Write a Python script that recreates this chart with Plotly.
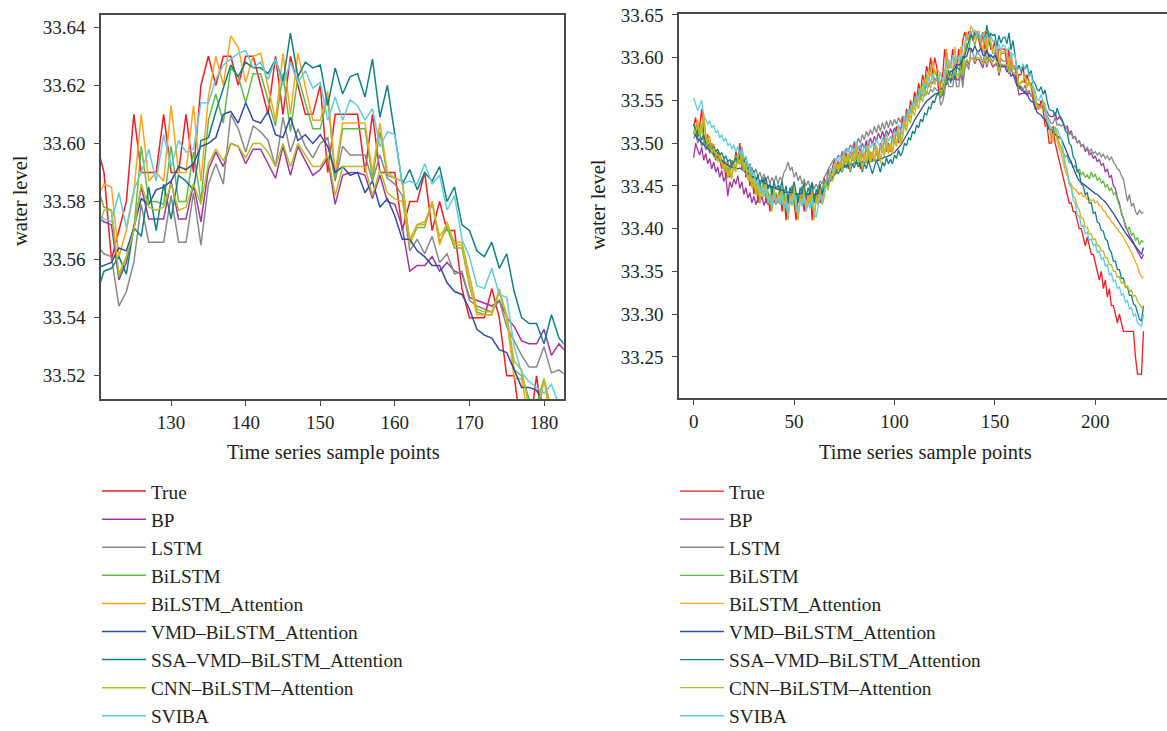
import plotly.graph_objects as go

# sample index 0..224
steps = list(range(225))

true_level = [
    33.52, 33.53, 33.51, 33.52, 33.54, 33.51, 33.50, 33.51, 33.49, 33.50,
    33.49, 33.48, 33.49, 33.48, 33.47, 33.48, 33.46, 33.47, 33.46, 33.48,
    33.47, 33.49, 33.48, 33.50, 33.47, 33.48, 33.46, 33.47, 33.45, 33.46,
    33.44, 33.46, 33.43, 33.45, 33.44, 33.46, 33.43, 33.44, 33.42, 33.45,
    33.43, 33.44, 33.43, 33.45, 33.42, 33.44, 33.41, 33.44, 33.43, 33.45,
    33.43, 33.41, 33.44, 33.43, 33.45, 33.42, 33.44, 33.43, 33.45, 33.41,
    33.44, 33.43, 33.45, 33.43, 33.44, 33.46, 33.45, 33.47, 33.46, 33.47,
    33.48, 33.47, 33.48, 33.47, 33.49, 33.48, 33.49, 33.47, 33.49, 33.48,
    33.50, 33.48, 33.49, 33.47, 33.49, 33.48, 33.50, 33.48, 33.49, 33.48,
    33.50, 33.49, 33.48, 33.50, 33.49, 33.51, 33.49, 33.50, 33.49, 33.51,
    33.50, 33.52, 33.50, 33.51, 33.53, 33.52, 33.54, 33.53, 33.55, 33.54,
    33.56, 33.55, 33.57, 33.56, 33.58, 33.57, 33.59, 33.58, 33.60, 33.58,
    33.60,
    33.59, 33.56, 33.57, 33.58, 33.61, 33.59, 33.59, 33.59, 33.61, 33.59,
    33.59, 33.61, 33.59, 33.62, 33.63, 33.62, 33.63, 33.63, 33.62, 33.63,
    33.63, 33.62, 33.61, 33.63, 33.61, 33.63, 33.62, 33.61, 33.61, 33.62,
    33.59, 33.61, 33.61, 33.61, 33.61, 33.59, 33.61, 33.59, 33.59, 33.59,
    33.57, 33.58, 33.58, 33.59, 33.57, 33.58, 33.57, 33.57, 33.55, 33.54,
    33.54, 33.54, 33.55, 33.54, 33.52, 33.52, 33.50, 33.50, 33.52, 33.50,
    33.49, 33.48, 33.47,
    33.46, 33.45, 33.44, 33.43, 33.43, 33.42, 33.42, 33.41, 33.40, 33.40,
    33.39, 33.38, 33.39, 33.38, 33.37, 33.37, 33.36, 33.35, 33.34, 33.35,
    33.33, 33.34, 33.32, 33.33, 33.31, 33.31, 33.30, 33.29, 33.30, 33.29,
    33.28, 33.28, 33.28, 33.28, 33.28, 33.28, 33.25, 33.23, 33.23, 33.23,
    33.28,
]

bp_pred = [
    33.483, 33.500, 33.492, 33.486, 33.495, 33.480, 33.488, 33.476, 33.482, 33.470,
    33.478, 33.466, 33.472, 33.460, 33.468, 33.455, 33.462, 33.438, 33.455, 33.448,
    33.458, 33.452, 33.462, 33.447, 33.455, 33.440, 33.448, 33.436, 33.442, 33.430,
    33.438, 33.428, 33.436, 33.430, 33.438, 33.427, 33.434, 33.428, 33.436, 33.430,
    33.437, 33.428, 33.435, 33.430, 33.438, 33.426, 33.433, 33.429, 33.437, 33.430,
    33.436, 33.427, 33.434, 33.430, 33.438, 33.428, 33.435, 33.431, 33.438, 33.426,
    33.434, 33.430, 33.438, 33.433, 33.440, 33.446, 33.452, 33.458, 33.462, 33.468,
    33.472, 33.470, 33.478, 33.474, 33.482, 33.480, 33.486, 33.481, 33.489, 33.485,
    33.493, 33.488, 33.496, 33.490, 33.500, 33.494, 33.503, 33.497, 33.506, 33.499,
    33.508, 33.502, 33.512, 33.505, 33.514, 33.507, 33.515, 33.509, 33.517, 33.511,
    33.518, 33.512, 33.520, 33.516, 33.524, 33.522, 33.530, 33.532, 33.540, 33.542,
    33.549, 33.550, 33.556, 33.558, 33.563, 33.562, 33.568, 33.566, 33.572, 33.570,
    33.575,
    33.573, 33.572, 33.553, 33.559, 33.571, 33.585, 33.574, 33.574, 33.574, 33.587,
    33.574, 33.574, 33.586, 33.573, 33.591, 33.597, 33.592, 33.600, 33.599, 33.593,
    33.598, 33.598, 33.593, 33.588, 33.599, 33.589, 33.599, 33.594, 33.589, 33.591,
    33.595, 33.579, 33.589, 33.590, 33.590, 33.589, 33.581, 33.589, 33.580, 33.579,
    33.571, 33.556, 33.558, 33.558, 33.561, 33.556, 33.559, 33.556, 33.555, 33.547,
    33.546, 33.545, 33.544, 33.546, 33.540, 33.537, 33.532, 33.531, 33.531, 33.536,
    33.527, 33.531, 33.528,
    33.524, 33.518, 33.520, 33.512, 33.514, 33.506, 33.508, 33.500, 33.503, 33.496,
    33.498, 33.490, 33.494, 33.486, 33.489, 33.482, 33.485, 33.478, 33.481, 33.474,
    33.476, 33.466, 33.470, 33.460, 33.462, 33.450, 33.447, 33.436, 33.430, 33.418,
    33.412, 33.402, 33.398, 33.392, 33.388, 33.384, 33.378, 33.374, 33.370, 33.365,
    33.370,
]

lstm_pred = [
    33.505, 33.512, 33.500, 33.506, 33.496, 33.502, 33.492, 33.497, 33.488, 33.494,
    33.484, 33.490, 33.480, 33.486, 33.476, 33.482, 33.472, 33.478, 33.470, 33.480,
    33.474, 33.484, 33.478, 33.488, 33.476, 33.482, 33.470, 33.476, 33.466, 33.472,
    33.464, 33.470, 33.460, 33.466, 33.458, 33.464, 33.456, 33.462, 33.452, 33.460,
    33.454, 33.462, 33.452, 33.460, 33.456, 33.466, 33.470, 33.478, 33.468, 33.472,
    33.460, 33.466, 33.456, 33.462, 33.452, 33.458, 33.450, 33.456, 33.448, 33.454,
    33.446, 33.452, 33.448, 33.456, 33.452, 33.460, 33.464, 33.470, 33.474, 33.478,
    33.482, 33.480, 33.486, 33.483, 33.490, 33.487, 33.494, 33.490, 33.498, 33.494,
    33.502, 33.497, 33.506, 33.500, 33.510, 33.504, 33.514, 33.508, 33.516, 33.510,
    33.520, 33.512, 33.522, 33.514, 33.524, 33.516, 33.526, 33.518, 33.527, 33.520,
    33.528, 33.522, 33.530, 33.524, 33.532, 33.528, 33.536, 33.534, 33.542, 33.540,
    33.548, 33.546, 33.553, 33.551, 33.558, 33.555, 33.561, 33.557, 33.563, 33.560,
    33.565,
    33.562, 33.561, 33.544, 33.549, 33.559, 33.579, 33.566, 33.566, 33.566, 33.582,
    33.566, 33.566, 33.583, 33.565, 33.586, 33.593, 33.586, 33.610, 33.605, 33.597,
    33.606, 33.604, 33.601, 33.592, 33.609, 33.597, 33.605, 33.599, 33.595, 33.600,
    33.602, 33.587, 33.599, 33.596, 33.596, 33.596, 33.587, 33.596, 33.588, 33.586,
    33.582, 33.563, 33.567, 33.562, 33.568, 33.559, 33.562, 33.555, 33.556, 33.546,
    33.544, 33.543, 33.542, 33.546, 33.537, 33.532, 33.527, 33.523, 33.523, 33.530,
    33.521, 33.522, 33.520,
    33.522, 33.518, 33.516, 33.510, 33.512, 33.505, 33.508, 33.500, 33.503, 33.496,
    33.499, 33.492, 33.495, 33.490, 33.493, 33.488, 33.490, 33.486, 33.489, 33.484,
    33.487, 33.482, 33.485, 33.480, 33.484, 33.478, 33.475, 33.470, 33.468, 33.462,
    33.458, 33.445, 33.432, 33.440, 33.426, 33.430, 33.420, 33.416, 33.422, 33.418,
    33.419,
]

bilstm_pred = [
    33.512, 33.520, 33.506, 33.512, 33.522, 33.504, 33.498, 33.504, 33.490, 33.496,
    33.488, 33.482, 33.488, 33.480, 33.474, 33.480, 33.466, 33.472, 33.465, 33.478,
    33.472, 33.486, 33.478, 33.492, 33.472, 33.478, 33.463, 33.470, 33.455, 33.462,
    33.447, 33.458, 33.438, 33.450, 33.444, 33.455, 33.436, 33.444, 33.428, 33.448,
    33.434, 33.442, 33.436, 33.448, 33.428, 33.442, 33.424, 33.440, 33.434, 33.448,
    33.434, 33.422, 33.440, 33.434, 33.448, 33.428, 33.441, 33.434, 33.448, 33.424,
    33.440, 33.434, 33.448, 33.436, 33.442, 33.455, 33.450, 33.464, 33.458, 33.466,
    33.474, 33.468, 33.476, 33.470, 33.484, 33.477, 33.486, 33.472, 33.486, 33.479,
    33.494, 33.480, 33.488, 33.474, 33.488, 33.480, 33.496, 33.481, 33.490, 33.482,
    33.497, 33.489, 33.482, 33.497, 33.490, 33.505, 33.492, 33.499, 33.492, 33.506,
    33.500, 33.514, 33.502, 33.509, 33.524, 33.518, 33.533, 33.528, 33.543, 33.537,
    33.552, 33.546, 33.561, 33.555, 33.570, 33.564, 33.580, 33.573, 33.589, 33.576,
    33.586,
    33.578, 33.577, 33.554, 33.561, 33.570, 33.599, 33.580, 33.580, 33.579, 33.599,
    33.580, 33.580, 33.597, 33.580, 33.608, 33.617, 33.607, 33.626, 33.623, 33.614,
    33.624, 33.624, 33.615, 33.606, 33.624, 33.604, 33.623, 33.614, 33.605, 33.605,
    33.616, 33.588, 33.605, 33.605, 33.605, 33.605, 33.588, 33.604, 33.589, 33.588,
    33.587, 33.566, 33.571, 33.571, 33.580, 33.566, 33.571, 33.564, 33.564, 33.551,
    33.542, 33.541, 33.541, 33.549, 33.540, 33.522, 33.520, 33.512, 33.510, 33.519,
    33.508, 33.500, 33.494,
    33.490, 33.484, 33.486, 33.477, 33.479, 33.471, 33.474, 33.466, 33.470, 33.463,
    33.466, 33.460, 33.463, 33.458, 33.466, 33.460, 33.464, 33.456, 33.460, 33.453,
    33.456, 33.448, 33.452, 33.444, 33.448, 33.440, 33.442, 33.434, 33.428, 33.420,
    33.412, 33.404, 33.398, 33.402, 33.392, 33.395, 33.386, 33.390, 33.381, 33.386,
    33.384,
]

bilstm_att_pred = [
    33.518, 33.520, 33.527, 33.512, 33.519, 33.535, 33.512, 33.503, 33.508, 33.492,
    33.499, 33.490, 33.482, 33.489, 33.480, 33.472, 33.479, 33.463, 33.469, 33.462,
    33.478, 33.471, 33.487, 33.479, 33.496, 33.472, 33.479, 33.462, 33.469, 33.453,
    33.460, 33.443, 33.458, 33.434, 33.449, 33.441, 33.457, 33.433, 33.441, 33.424,
    33.447, 33.432, 33.440, 33.432, 33.448, 33.424, 33.440, 33.414, 33.438, 33.431,
    33.448, 33.432, 33.414, 33.438, 33.431, 33.447, 33.424, 33.440, 33.432, 33.447,
    33.414, 33.438, 33.432, 33.447, 33.432, 33.440, 33.457, 33.449, 33.466, 33.459,
    33.468, 33.478, 33.470, 33.479, 33.471, 33.487, 33.479, 33.488, 33.472, 33.488,
    33.480, 33.497, 33.481, 33.490, 33.473, 33.488, 33.480, 33.497, 33.481, 33.490,
    33.482, 33.497, 33.489, 33.481, 33.497, 33.489, 33.506, 33.491, 33.499, 33.491,
    33.507, 33.500, 33.516, 33.502, 33.510, 33.526, 33.519, 33.536, 33.529, 33.546,
    33.539, 33.556, 33.549, 33.566, 33.559, 33.576, 33.569, 33.586, 33.578, 33.596,
    33.581,
    33.586, 33.585, 33.561, 33.570, 33.583, 33.610, 33.587, 33.590, 33.587, 33.613,
    33.590, 33.590, 33.613, 33.587, 33.616, 33.630, 33.620, 33.637, 33.633, 33.621,
    33.630, 33.631, 33.620, 33.608, 33.631, 33.610, 33.631, 33.620, 33.608, 33.608,
    33.618, 33.590, 33.607, 33.607, 33.607, 33.607, 33.590, 33.607, 33.590, 33.588,
    33.587, 33.565, 33.572, 33.572, 33.580, 33.565, 33.573, 33.565, 33.565, 33.552,
    33.541, 33.541, 33.541, 33.550, 33.540, 33.519, 33.519, 33.504, 33.502, 33.519,
    33.502, 33.494, 33.488,
    33.478, 33.468, 33.462, 33.455, 33.452, 33.447, 33.446, 33.443, 33.440, 33.442,
    33.437, 33.439, 33.434, 33.436, 33.432, 33.434, 33.430, 33.432, 33.427, 33.426,
    33.421, 33.420, 33.414, 33.413, 33.408, 33.406, 33.402, 33.400, 33.396, 33.394,
    33.390, 33.386, 33.381, 33.377, 33.372, 33.367, 33.362, 33.356, 33.348, 33.344,
    33.342,
]

vmd_bilstm_att_pred = [
    33.512, 33.508, 33.505, 33.503, 33.500, 33.498, 33.496, 33.493, 33.491, 33.489,
    33.487, 33.485, 33.483, 33.481, 33.479, 33.477, 33.476, 33.474, 33.473, 33.472,
    33.471, 33.471, 33.470, 33.471, 33.469, 33.468, 33.466, 33.465, 33.463, 33.462,
    33.460, 33.459, 33.457, 33.456, 33.455, 33.454, 33.452, 33.451, 33.449, 33.449,
    33.448, 33.447, 33.446, 33.446, 33.445, 33.444, 33.442, 33.443, 33.442, 33.443,
    33.442, 33.440, 33.441, 33.441, 33.442, 33.440, 33.441, 33.440, 33.442, 33.439,
    33.440, 33.440, 33.442, 33.441, 33.443, 33.446, 33.449, 33.453, 33.456, 33.459,
    33.463, 33.465, 33.468, 33.469, 33.472, 33.472, 33.474, 33.473, 33.475, 33.475,
    33.477, 33.476, 33.477, 33.476, 33.478, 33.477, 33.479, 33.478, 33.479, 33.479,
    33.481, 33.480, 33.480, 33.482, 33.482, 33.484, 33.484, 33.485, 33.486, 33.488,
    33.489, 33.492, 33.494, 33.497, 33.501, 33.505, 33.509, 33.513, 33.518, 33.522,
    33.527, 33.531, 33.535, 33.539, 33.543, 33.546, 33.549, 33.551, 33.554, 33.555,
    33.557,
    33.558, 33.559, 33.564, 33.563, 33.571, 33.581, 33.579, 33.584, 33.585, 33.587,
    33.592, 33.591, 33.593, 33.599, 33.600, 33.602, 33.610, 33.611, 33.607, 33.614,
    33.608, 33.607, 33.611, 33.603, 33.602, 33.609, 33.601, 33.603, 33.600, 33.603,
    33.599, 33.590, 33.592, 33.589, 33.590, 33.583, 33.587, 33.578, 33.581, 33.575,
    33.567, 33.567, 33.563, 33.561, 33.558, 33.558, 33.552, 33.549, 33.548, 33.543,
    33.536, 33.534, 33.533, 33.529, 33.528, 33.522, 33.516, 33.516, 33.515, 33.510,
    33.508, 33.506, 33.505,
    33.500, 33.494, 33.488, 33.482, 33.476, 33.470, 33.465, 33.460, 33.456, 33.454,
    33.452, 33.450, 33.448, 33.446, 33.444, 33.443, 33.441, 33.440, 33.438, 33.436,
    33.434, 33.431, 33.428, 33.425, 33.421, 33.418, 33.414, 33.410, 33.406, 33.402,
    33.398, 33.395, 33.392, 33.389, 33.386, 33.383, 33.380, 33.377, 33.374, 33.370,
    33.378,
]

ssa_vmd_pred = [
    33.522, 33.515, 33.508, 33.512, 33.503, 33.510, 33.500, 33.497, 33.499, 33.493,
    33.496, 33.490, 33.493, 33.486, 33.489, 33.482, 33.485, 33.478, 33.481, 33.474,
    33.479, 33.483, 33.476, 33.486, 33.494, 33.478, 33.484, 33.470, 33.476, 33.462,
    33.468, 33.455, 33.463, 33.450, 33.458, 33.452, 33.460, 33.446, 33.452, 33.440,
    33.455, 33.446, 33.451, 33.444, 33.456, 33.440, 33.450, 33.432, 33.448, 33.442,
    33.455, 33.442, 33.430, 33.448, 33.441, 33.454, 33.436, 33.448, 33.441, 33.454,
    33.430, 33.446, 33.441, 33.452, 33.440, 33.446, 33.456, 33.450, 33.462, 33.456,
    33.463, 33.470, 33.464, 33.470, 33.466, 33.476, 33.471, 33.477, 33.466, 33.476,
    33.471, 33.480, 33.472, 33.477, 33.466, 33.476, 33.470, 33.480, 33.472, 33.464,
    33.472, 33.480, 33.474, 33.466, 33.478, 33.473, 33.483, 33.476, 33.481, 33.476,
    33.486, 33.482, 33.492, 33.485, 33.490, 33.500, 33.497, 33.506, 33.504, 33.514,
    33.511, 33.521, 33.518, 33.528, 33.525, 33.535, 33.533, 33.542, 33.540, 33.549,
    33.548,
    33.556, 33.557, 33.561, 33.555, 33.571, 33.568, 33.585, 33.570, 33.586, 33.574,
    33.589, 33.587, 33.584, 33.601, 33.602, 33.611, 33.619, 33.627, 33.623, 33.628,
    33.626, 33.626, 33.624, 33.629, 33.621, 33.638, 33.623, 33.628, 33.626, 33.627,
    33.613, 33.626, 33.617, 33.623, 33.624, 33.616, 33.629, 33.609, 33.620, 33.603,
    33.586, 33.591, 33.584, 33.590, 33.587, 33.592, 33.580, 33.585, 33.572, 33.570,
    33.563, 33.561, 33.566, 33.557, 33.562, 33.549, 33.540, 33.538, 33.538, 33.531,
    33.541, 33.533, 33.530,
    33.524, 33.515, 33.512, 33.500, 33.497, 33.484, 33.480, 33.468, 33.465, 33.452,
    33.450, 33.440, 33.442, 33.430, 33.430, 33.418, 33.419, 33.408, 33.406, 33.398,
    33.397, 33.388, 33.386, 33.376, 33.372, 33.362, 33.362, 33.352, 33.352, 33.342,
    33.342, 33.332, 33.332, 33.322, 33.322, 33.312, 33.310, 33.302, 33.294, 33.292,
    33.310,
]

cnn_bilstm_att_pred = [
    33.510, 33.514, 33.522, 33.508, 33.514, 33.528, 33.506, 33.498, 33.503, 33.488,
    33.494, 33.486, 33.478, 33.485, 33.476, 33.468, 33.475, 33.459, 33.465, 33.458,
    33.473, 33.466, 33.482, 33.474, 33.490, 33.467, 33.474, 33.457, 33.464, 33.448,
    33.455, 33.439, 33.453, 33.430, 33.444, 33.437, 33.452, 33.429, 33.437, 33.420,
    33.443, 33.428, 33.436, 33.428, 33.444, 33.420, 33.436, 33.410, 33.434, 33.427,
    33.444, 33.428, 33.410, 33.434, 33.427, 33.443, 33.420, 33.436, 33.428, 33.443,
    33.410, 33.434, 33.428, 33.443, 33.428, 33.436, 33.453, 33.445, 33.462, 33.455,
    33.464, 33.474, 33.466, 33.475, 33.467, 33.483, 33.475, 33.484, 33.468, 33.484,
    33.476, 33.493, 33.477, 33.486, 33.469, 33.484, 33.476, 33.493, 33.477, 33.486,
    33.478, 33.493, 33.485, 33.477, 33.493, 33.485, 33.502, 33.487, 33.495, 33.487,
    33.503, 33.496, 33.512, 33.498, 33.506, 33.521, 33.514, 33.530, 33.523, 33.539,
    33.532, 33.547, 33.540, 33.555, 33.548, 33.563, 33.556, 33.571, 33.564, 33.580,
    33.568,
    33.577, 33.577, 33.555, 33.561, 33.570, 33.586, 33.578, 33.577, 33.578, 33.586,
    33.577, 33.578, 33.586, 33.579, 33.593, 33.598, 33.594, 33.600, 33.599, 33.595,
    33.600, 33.600, 33.597, 33.592, 33.600, 33.592, 33.600, 33.596, 33.592, 33.592,
    33.596, 33.582, 33.592, 33.592, 33.592, 33.592, 33.582, 33.591, 33.583, 33.581,
    33.580, 33.567, 33.572, 33.573, 33.579, 33.568, 33.572, 33.566, 33.566, 33.554,
    33.543, 33.542, 33.542, 33.549, 33.541, 33.525, 33.522, 33.509, 33.507, 33.519,
    33.507, 33.500, 33.495,
    33.486, 33.474, 33.468, 33.454, 33.449, 33.438, 33.436, 33.426, 33.422, 33.412,
    33.412, 33.402, 33.402, 33.394, 33.394, 33.387, 33.388, 33.380, 33.380, 33.374,
    33.374, 33.366, 33.366, 33.358, 33.358, 33.350, 33.350, 33.343, 33.344, 33.336,
    33.338, 33.331, 33.333, 33.327, 33.328, 33.321, 33.322, 33.315, 33.312, 33.308,
    33.309,
]

sviba_pred = [
    33.553, 33.545, 33.538, 33.544, 33.550, 33.532, 33.528, 33.522, 33.526, 33.518,
    33.521, 33.512, 33.515, 33.506, 33.510, 33.502, 33.506, 33.497, 33.500, 33.493,
    33.498, 33.490, 33.496, 33.486, 33.494, 33.481, 33.485, 33.472, 33.476, 33.462,
    33.466, 33.452, 33.458, 33.442, 33.450, 33.440, 33.448, 33.432, 33.440, 33.424,
    33.440, 33.430, 33.436, 33.428, 33.442, 33.422, 33.434, 33.415, 33.432, 33.428,
    33.440, 33.428, 33.418, 33.432, 33.426, 33.438, 33.420, 33.430, 33.424, 33.436,
    33.416, 33.414, 33.426, 33.438, 33.430, 33.444, 33.456, 33.460, 33.470, 33.468,
    33.476, 33.482, 33.478, 33.486, 33.482, 33.492, 33.488, 33.494, 33.484, 33.495,
    33.490, 33.502, 33.492, 33.498, 33.487, 33.498, 33.492, 33.504, 33.494, 33.500,
    33.494, 33.505, 33.499, 33.494, 33.506, 33.500, 33.512, 33.502, 33.508, 33.502,
    33.514, 33.510, 33.522, 33.513, 33.519, 33.531, 33.527, 33.539, 33.535, 33.548,
    33.544, 33.556, 33.551, 33.563, 33.558, 33.570, 33.565, 33.576, 33.571, 33.581,
    33.576,
    33.574, 33.573, 33.583, 33.571, 33.584, 33.590, 33.598, 33.587, 33.603, 33.592,
    33.601, 33.597, 33.598, 33.614, 33.614, 33.622, 33.627, 33.629, 33.631, 33.632,
    33.626, 33.628, 33.622, 33.629, 33.620, 33.628, 33.621, 33.625, 33.619, 33.621,
    33.608, 33.616, 33.608, 33.615, 33.613, 33.608, 33.612, 33.599, 33.604, 33.603,
    33.586, 33.587, 33.586, 33.593, 33.586, 33.589, 33.577, 33.582, 33.567, 33.561,
    33.551, 33.550, 33.557, 33.548, 33.547, 33.530, 33.521, 33.518, 33.516, 33.514,
    33.517, 33.510, 33.505,
    33.492, 33.476, 33.468, 33.452, 33.448, 33.433, 33.430, 33.416, 33.415, 33.403,
    33.404, 33.394, 33.396, 33.386, 33.388, 33.380, 33.382, 33.372, 33.374, 33.364,
    33.366, 33.356, 33.358, 33.346, 33.348, 33.338, 33.340, 33.330, 33.332, 33.322,
    33.324, 33.314, 33.316, 33.306, 33.308, 33.298, 33.300, 33.290, 33.288, 33.286,
    33.300,
]

series_names = ["True", "BP", "LSTM", "BiLSTM", "BiLSTM_Attention",
                "VMD–BiLSTM_Attention", "SSA–VMD–BiLSTM_Attention",
                "CNN–BiLSTM–Attention", "SVIBA"]
series_values = [true_level, bp_pred, lstm_pred, bilstm_pred, bilstm_att_pred,
                 vmd_bilstm_att_pred, ssa_vmd_pred, cnn_bilstm_att_pred, sviba_pred]
series_colors = ["#ee1c25", "#a0369e", "#888888", "#62bb46", "#f9a51e",
                 "#2e4da3", "#118080", "#b6bd24", "#62cbe2"]

SERIF = "Liberation Serif"
TEXT = "#231f20"
AXIS = "#4a4a4a"

fig = go.Figure()

# zoomed panel (left) and full-range panel (right) share the same series
for name, vals, color in zip(series_names, series_values, series_colors):
    fig.add_trace(go.Scatter(x=steps, y=vals, mode="lines", name=name,
                             line=dict(color=color, width=1.5),
                             xaxis="x", yaxis="y", legend="legend"))
for name, vals, color in zip(series_names, series_values, series_colors):
    fig.add_trace(go.Scatter(x=steps, y=vals, mode="lines", name=name,
                             line=dict(color=color, width=1.3),
                             xaxis="x2", yaxis="y2", legend="legend2"))

axis_style = dict(showline=True, linecolor=AXIS, linewidth=1.5, ticks="outside",
                  ticklen=5, tickwidth=1.2, tickcolor=AXIS, showgrid=False,
                  zeroline=False,
                  tickfont=dict(family=SERIF, size=19, color=TEXT))

W, H = 1167, 731

def px_x(p):
    return p / W

def px_y(p):
    return 1 - p / H

legend_style = dict(font=dict(family=SERIF, size=19.3, color=TEXT),
                    bgcolor="rgba(0,0,0,0)", xanchor="left", yanchor="top",
                    tracegroupgap=0, itemwidth=44)

fig.update_layout(
    width=W, height=H,
    margin=dict(l=0, r=0, t=0, b=0, autoexpand=False),
    paper_bgcolor="white", plot_bgcolor="white",
    showlegend=True,
    xaxis=dict(domain=[px_x(101), px_x(563.7)], range=[120.6, 182.64],
               tickvals=[130, 140, 150, 160, 170, 180], anchor="y",
               mirror=True, ticklabelstandoff=0, **axis_style),
    yaxis=dict(domain=[px_y(399), px_y(15)], range=[33.512, 33.6442],
               tickvals=[33.52, 33.54, 33.56, 33.58, 33.60, 33.62, 33.64],
               tickformat=".2f", anchor="x", mirror=True,
               ticklabelstandoff=5, **axis_style),
    xaxis2=dict(domain=[px_x(679), 1.0], range=[-7.3, 235.7],
                tickvals=[0, 50, 100, 150, 200], anchor="y2",
                mirror=True, ticklabelstandoff=0, **axis_style),
    yaxis2=dict(domain=[px_y(398), px_y(14)], range=[33.202, 33.651],
                tickvals=[33.25, 33.30, 33.35, 33.40, 33.45, 33.50, 33.55,
                          33.60, 33.65],
                tickformat=".2f", anchor="x2", mirror=False,
                ticklabelstandoff=5, **axis_style),
    legend=dict(x=px_x(97), y=px_y(472), **legend_style),
    legend2=dict(x=px_x(675), y=px_y(472), **legend_style),
)

title_font = dict(family=SERIF, size=20.5, color=TEXT)
for x, y, text, angle in [
    (20, 201, "water level", -90),
    (598, 205, "water level", -90),
    (333, 452, "Time series sample points", 0),
    (925, 452, "Time series sample points", 0),
]:
    fig.add_annotation(x=px_x(x), y=px_y(y), xref="paper", yref="paper",
                       text=text, textangle=angle, showarrow=False,
                       xanchor="center", yanchor="middle", font=title_font)

fig.write_html("out.html")
